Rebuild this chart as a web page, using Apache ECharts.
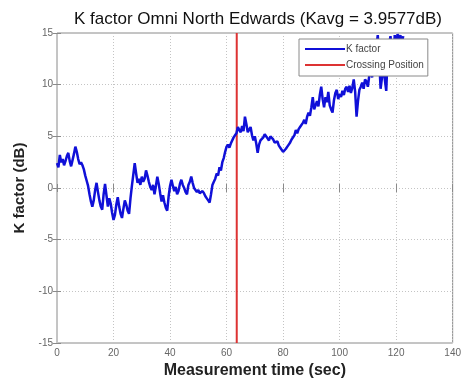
<!DOCTYPE html>
<html>
<head>
<meta charset="utf-8">
<script src="https://cdn.jsdelivr.net/npm/echarts@6/dist/echarts.min.js"></script>
<style>
  html, body { margin: 0; padding: 0; background: #fff; }
  #chart { width: 464px; height: 388px; }
</style>
</head>
<body>
<div id="chart"></div>
<script>
// Measurement time (sec), sampled every 0.5 s
const timeStep = 0.5;
// K factor (dB) per sample
const kFactor = [
  2.4, 2.0, 3.2, 2.5, 2.8, 2.2, 2.6, 3.1, 3.4, 2.6,
  2.1, 2.7, 3.3, 4.0, 3.5, 2.8, 2.3, 2.5, 2.2, 1.8,
  1.2, 0.7, 0.2, -0.6, -1.3, -1.8, -1.2, -0.2, 0.5, -0.4,
  -1.2, -1.8, -2.1, -0.6, 0.4, -0.7, -1.8, -1.0, -1.5, -2.4,
  -3.1, -2.6, -1.6, -0.9, -1.8, -2.5, -2.9, -2.0, -1.2, -1.6,
  -2.2, -2.5, -1.0, 0.2, 1.3, 2.4, 1.4, 0.5, 0.9, 0.3,
  1.1, 0.6, 0.9, 1.7, 1.2, 0.6, 0.1, -0.2, 0.3, -0.6,
  0.2, 1.1, 0.4, -0.5, -1.3, -0.7, -1.4, -1.9, -2.2, -0.8,
  0.2, 0.8, 0.2, -0.3, 0.1, -0.6, -0.3, 0.4, 0.8, 0.3,
  0.0, -0.4, -0.6, 0.3, 0.6, 1.1, 0.5, 0.0, -0.2, -0.4,
  -0.2, -0.5, -0.6, -0.3, -0.5, -0.8, -1.0, -1.2, -1.4, -0.6,
  0.3, 0.6, 0.9, 1.4, 1.2, 2.0, 1.7, 2.5, 2.9, 3.5,
  4.0, 4.2, 3.9, 4.3, 4.4, 4.9, 5.1, 5.3, 5.9, 5.6,
  5.4, 6.0, 5.5, 6.9, 6.2, 5.4, 5.3, 5.9, 5.1, 4.6,
  5.0, 4.3, 3.4, 4.2, 4.6, 4.5, 4.9, 5.2, 5.3, 4.8,
  4.6, 5.0, 5.0, 4.7, 4.4, 4.3, 4.5, 4.1, 3.9, 4.0,
  3.5, 3.4, 3.8, 4.0, 4.2, 4.4, 4.7, 4.6, 5.1, 5.6,
  5.3, 5.7, 5.9, 5.8, 6.3, 6.6, 6.2, 6.9, 7.3, 7.0,
  7.8, 8.8, 7.6, 7.5, 8.4, 7.9, 9.0, 9.8, 8.6, 7.8,
  8.8, 8.3, 9.3, 8.0, 7.6, 7.3, 8.5, 9.2, 9.5, 8.6,
  9.1, 8.8, 9.4, 9.0, 9.6, 9.8, 9.3, 9.9, 9.2, 9.7,
  10.5, 9.3, 6.9, 8.4, 9.5, 9.8, 10.2, 9.6, 10.5, 10.3,
  9.8, 10.9, 11.5, 10.7, 12.4, 11.0, 13.6, 14.8, 12.5, 9.6,
  9.5, 11.8, 10.5, 9.4, 12.8, 13.9, 14.7, 13.2, 11.2, 14.8,
  13.7, 14.9, 14.1, 14.8, 13.9, 14.7
];
// Crossing position (sec)
const crossingTime = 63.6;

const xTicks = [0, 20, 40, 60, 80, 100, 120, 140];
const yTicks = [-15, -10, -5, 0, 5, 10, 15];

const kSeries = kFactor.map((v, i) => [i * timeStep, v]);
const crossSeries = [[crossingTime, yTicks[0]], [crossingTime, yTicks[yTicks.length - 1]]];

const chart = echarts.init(document.getElementById('chart'), null, { renderer: 'canvas' });

const font = 'Liberation Sans, Arial, sans-serif';
const gridLine = { show: true, lineStyle: { color: '#c4c4c4', type: [1, 2], width: 1 } };

chart.setOption({
  backgroundColor: '#fff',
  animation: false,
  title: {
    text: 'K factor Omni North Edwards (Kavg = 3.9577dB)',
    left: 253, top: 6, textAlign: 'center',
    textStyle: { fontFamily: font, fontSize: 17, fontWeight: 'normal', color: '#111' }
  },
  legend: {
    orient: 'vertical',
    left: 299, top: 39,
    width: 150,
    padding: [5, 4, 6, 6],
    itemGap: 6,
    itemWidth: 40, itemHeight: 2,
    icon: 'rect',
    backgroundColor: '#fff',
    borderColor: '#8a8a8a', borderWidth: 1,
    textStyle: { fontFamily: font, fontSize: 10, color: '#444', padding: [0, 0, 0, -4] },
    data: ['K factor', 'Crossing Position']
  },
  grid: {
    left: 57, right: 11, top: 33, bottom: 45,
    show: true, borderColor: '#8a8a8a', borderWidth: 1
  },
  xAxis: [{
    type: 'value', min: xTicks[0], max: xTicks[xTicks.length - 1], interval: 20,
    name: 'Measurement time (sec)', nameLocation: 'middle', nameGap: 20,
    nameTextStyle: { fontFamily: font, fontSize: 16, fontWeight: 'bold', color: '#222' },
    axisLine: { show: false },
    axisTick: { show: true, inside: true, length: 4, lineStyle: { color: '#8a8a8a' } },
    axisLabel: { fontFamily: font, fontSize: 10, color: '#666', margin: 5 },
    splitLine: gridLine
  }, {
    type: 'value', position: 'top', min: xTicks[0], max: xTicks[xTicks.length - 1], interval: 20,
    axisLine: { show: false }, axisLabel: { show: false }, splitLine: { show: false },
    axisTick: { show: true, inside: true, length: 4, lineStyle: { color: '#8a8a8a' } }
  }],
  yAxis: [{
    type: 'value', min: yTicks[0], max: yTicks[yTicks.length - 1], interval: 5,
    name: 'K factor (dB)', nameLocation: 'middle', nameGap: 29, nameRotate: 90,
    nameTextStyle: { fontFamily: font, fontSize: 15, fontWeight: 'bold', color: '#222' },
    axisLine: { show: false },
    axisTick: { show: true, inside: true, length: 4, lineStyle: { color: '#8a8a8a' } },
    axisLabel: { fontFamily: font, fontSize: 10, color: '#666', margin: 4 },
    splitLine: gridLine
  }, {
    type: 'value', position: 'right', min: yTicks[0], max: yTicks[yTicks.length - 1], interval: 5,
    axisLine: { show: false }, axisLabel: { show: false }, splitLine: { show: false },
    axisTick: { show: true, inside: true, length: 4, lineStyle: { color: '#8a8a8a' } }
  }],
  series: [{
    name: 'K factor',
    type: 'line',
    data: kSeries,
    showSymbol: false,
    clip: true,
    itemStyle: { color: '#1010d8' },
    lineStyle: { color: '#1010d8', width: 2.5 },
    z: 3
  }, {
    name: 'Crossing Position',
    type: 'line',
    data: crossSeries,
    showSymbol: false,
    itemStyle: { color: '#dd3333' },
    lineStyle: { color: '#dd3333', width: 2 },
    z: 2
  }]
});
</script>
</body>
</html>
